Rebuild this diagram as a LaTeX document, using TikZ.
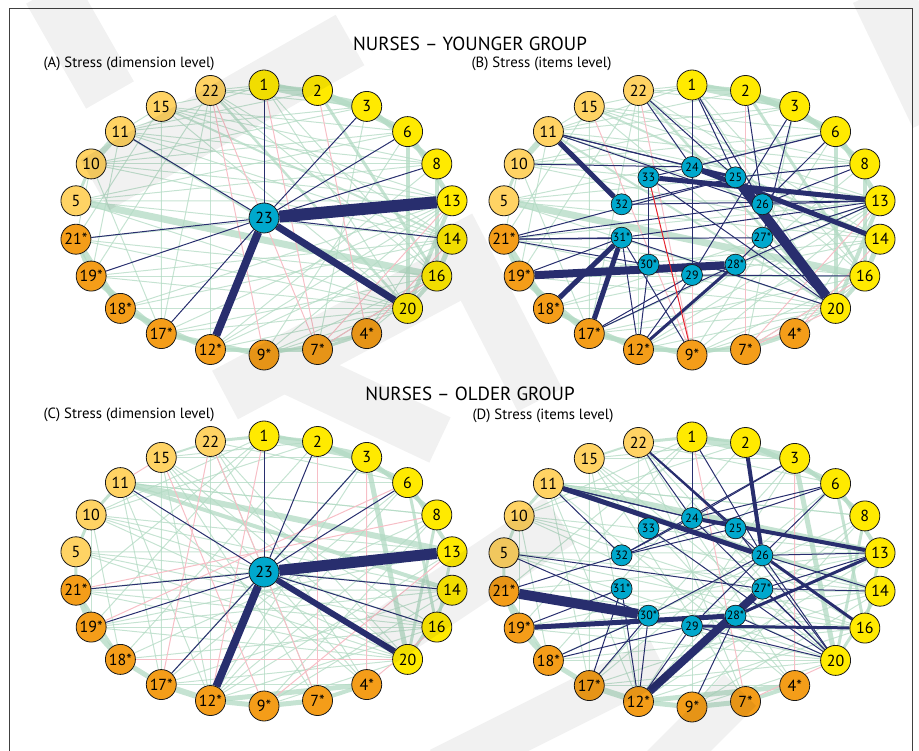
\documentclass[tikz,border=0pt]{standalone}
\usepackage{fontspec}
\setmainfont{PT Sans}
\usetikzlibrary{calc}
\definecolor{navyEdge}{RGB}{40,46,110}
\definecolor{mintEdge}{RGB}{178,218,195}
\definecolor{pinkEdge}{RGB}{247,190,198}
\definecolor{redEdge}{RGB}{230,35,45}
\definecolor{yelNode}{RGB}{255,234,0}
\definecolor{lorNode}{RGB}{255,211,100}
\definecolor{oraNode}{RGB}{244,157,25}
\definecolor{hubNode}{RGB}{0,168,205}

\pgfdeclarelayer{edges}
\pgfsetlayers{edges,main}

% anillo exterior: 22 items (prefijo, centro x, centro y)
\newcommand{\itemring}[3]{%
  \foreach \lab/\nm/\col [count=\k from 0] in {1/1/yelNode, 2/2/yelNode, 3/3/yelNode, 6/6/yelNode, 8/8/yelNode, 13/13/yelNode, 14/14/yelNode, 16/16/yelNode, 20/20/yelNode, 4*/4/oraNode, 7*/7/oraNode, 9*/9/oraNode, 12*/12/oraNode, 17*/17/oraNode, 18*/18/oraNode, 19*/19/oraNode, 21*/21/oraNode, 5/5/lorNode, 10/10/lorNode, 11/11/lorNode, 15/15/lorNode, 22/22/lorNode}{%
    \pgfmathsetmacro{\ang}{-90+\k*360/22}
    \node[item, fill=\col] (#1\nm) at ({#2+190*cos(\ang)},{#3+135*sin(\ang)}) {\lab};
  }}
% anillo interior: items de estres 24-33
\newcommand{\hubring}[3]{%
  \foreach \lab/\nm [count=\k from 0] in {24/24, 25/25, 26/26, 27*/27, 28*/28, 29/29, 30*/30, 31*/31, 32/32, 33/33}{%
    \pgfmathsetmacro{\ang}{-90+\k*36}
    \node[hub] (#1\nm) at ({#2+74*cos(\ang)},{#3+54*sin(\ang)}) {\lab};
  }}
% aristas: prefijo, estilo, lista u/v/grosor
\newcommand{\edgeset}[3]{%
  \foreach \u/\v/\w in #3 {\draw[#2, line width=\w pt] (#1\u) -- (#1\v);}}

% aristas de fondo (verde)
\def\youngMint{1/3/8, 2/6/6, 3/8/5, 6/13/5, 8/16/4, 6/20/4, 13/20/4, 14/16/5, 2/16/3, 5/16/7, 11/10/6, 10/5/3, 21/19/4, 21/18/6, 19/17/6, 18/12/5, 17/9/5, 12/7/4, 9/4/3, 7/4/3, 16/20/4, 1/2/3, 22/20/2.5, 15/14/2, 11/20/2,
  11/8/1, 11/13/1, 11/14/1, 10/13/1, 10/8/1, 10/14/1, 15/13/1, 15/8/1, 22/14/1, 15/20/1, 22/16/1, 5/14/1, 5/13/1, 21/16/1, 21/13/1, 19/20/1, 18/20/1, 17/20/1, 17/16/1, 12/14/1, 12/13/1, 9/13/1, 9/16/1, 17/13/1, 15/17/1, 11/19/1, 10/17/1, 15/21/1, 22/19/1, 1/22/1, 1/15/1, 1/11/1, 2/11/1, 3/10/1, 3/11/1, 6/10/1, 6/15/1, 6/5/1, 8/5/1, 1/16/1, 1/20/1, 22/12/1, 22/17/1, 3/7/1, 6/9/1, 8/12/1, 14/18/1, 16/19/1, 20/21/1, 20/5/1, 4/13/1, 4/16/1, 7/16/1, 12/20/1, 9/20/1, 18/13/1, 19/14/1, 2/22/1, 3/22/1, 15/11/1, 10/21/1}
\def\oldMint{1/3/8, 1/2/3, 2/6/5, 3/8/4, 6/13/4, 3/20/5, 8/20/3, 11/13/6, 11/14/4, 13/16/3, 14/20/3, 6/16/3, 21/19/5, 19/18/5, 18/17/5, 17/12/6, 12/9/5, 9/7/5, 12/4/5, 7/4/4, 21/18/3, 5/21/3, 10/5/3, 11/10/3, 15/22/2, 22/1/3,
  11/8/1, 11/6/1, 10/13/1, 10/14/1, 10/16/1, 15/20/1, 15/16/1, 22/20/1, 22/4/1, 5/13/1, 5/14/1, 5/16/1, 5/20/1, 21/14/1, 21/20/1, 19/16/1, 19/20/1, 18/16/1, 17/20/1, 17/14/1, 12/13/1, 12/16/1, 9/14/1, 9/20/1, 22/12/1, 15/17/1, 15/12/1, 11/17/1, 11/12/1, 10/19/1, 10/18/1, 1/21/1, 1/19/1, 2/18/1, 3/17/1, 3/12/1, 6/17/1, 6/12/1, 8/9/1, 8/12/1, 13/19/1, 13/21/1, 20/10/1, 4/11/1, 7/22/1, 9/1/1, 4/15/1, 7/15/1, 18/8/1, 2/15/1, 3/15/1, 6/22/1, 8/11/1, 1/10/1, 2/10/1, 16/21/1, 14/19/1, 20/18/1, 4/17/1}

\begin{document}
\begin{tikzpicture}[x=1pt, y=-1pt,
    item/.style={circle, draw=black!90, line width=0.8pt, minimum size=30pt, inner sep=0pt, font=\fontsize{16pt}{16pt}\selectfont},
    hub/.style={circle, draw=black!90, line width=0.7pt, fill=hubNode, minimum size=21pt, inner sep=0pt, font=\fontsize{12pt}{12pt}\selectfont},
    mint/.style={draw=mintEdge, opacity=0.75},
    pink/.style={draw=pinkEdge},
    navy/.style={draw=navyEdge},
    headline/.style={font=\fontsize{19pt}{19pt}\selectfont},
    panel label/.style={anchor=west, font=\fontsize{14.8pt}{14.8pt}\selectfont}]
\useasboundingbox (0,0) rectangle (919,751);

% 1. MARCO Y TITULOS
\draw[black!75, line width=1pt] (9,751) -- (9,9) -- (912,9) -- (912,751);
\node[headline] (titleYoung) at (470,44) {NURSES – YOUNGER GROUP};
\node[headline] (titleOld) at (470,394) {NURSES – OLDER GROUP};
\node[panel label] (labA) at (40,64) {(A) Stress (dimension level)};
\node[panel label] (labB) at (468,64) {(B) Stress (items level)};
\node[panel label] (labC) at (40,415) {(C) Stress (dimension level)};
\node[panel label] (labD) at (469,416) {(D) Stress (items level)};

% 2. NODOS
\itemring{A}{264}{220}
\itemring{B}{692}{220}
\itemring{C}{264}{571}
\itemring{D}{692}{572}
\node[item, fill=hubNode] (A23) at (264,218) {23};
\node[item, fill=hubNode] (C23) at (264,572) {23};
\hubring{B}{692}{221}
\hubring{D}{692}{572}

% 3. ARISTAS
\begin{pgfonlayer}{edges}
  \edgeset{A}{mint}{\youngMint}
  \edgeset{B}{mint}{\youngMint}
  \edgeset{C}{mint}{\oldMint}
  \edgeset{D}{mint}{\oldMint}
  % negativas
  \edgeset{A}{pink}{{22/9/1, 22/7/1, 1/7/1, 2/4/1, 7/13/1, 4/14/1, 7/16/1}}
  \edgeset{B}{pink}{{22/9/1, 15/9/1, 1/9/1, 2/7/1, 7/13/1, 4/14/1, 7/16/1, 20/7/1}}
  \edgeset{C}{pink}{{22/7/1, 15/9/1, 2/7/1, 3/4/1, 6/19/1, 8/21/1, 22/17/1, 1/12/1, 9/13/1, 20/18/1, 4/16/1, 11/15/1}}
  \edgeset{D}{pink}{{1/7/1, 3/4/1, 20/7/1}}
  % aristas con el estres
  \edgeset{A}{navy}{{23/1/1, 23/3/1, 23/6/1, 23/8/1, 23/13/12, 23/14/1, 23/20/7, 23/12/8, 23/17/1, 23/19/1, 23/21/1, 23/11/1}}
  \edgeset{C}{navy}{{23/1/1, 23/2/1, 23/3/1, 23/6/1, 23/11/1, 23/13/11, 23/14/1, 23/16/1, 23/20/6, 23/12/8, 23/17/1, 23/19/1, 23/21/1}}
  \edgeset{B}{navy}{{11/32/5, 11/24/1, 11/25/1, 11/26/1, 10/24/1, 22/24/1, 22/25/1, 1/29/1, 1/25/1, 1/26/1, 2/26/1, 3/29/1, 3/27/1, 6/24/1.2, 6/26/1, 8/25/1, 8/26/1, 33/13/5, 24/14/5, 25/20/10, 13/26/1, 13/32/1, 13/31/1, 13/27/1, 13/28/1, 33/24/1, 33/30/1, 33/20/1, 32/25/1, 21/26/1, 21/25/1, 21/31/1, 21/27/1, 21/30/1, 19/28/8, 19/31/1, 18/31/5, 17/31/5, 17/28/1, 17/29/1, 12/31/1, 12/30/1, 12/29/1, 12/28/3, 31/9/1, 31/20/1, 29/16/1, 28/27/1, 27/20/1, 24/25/3}}
  \draw[redEdge, line width=1pt] (B33) -- (B9);
  \edgeset{D}{navy}{{11/26/5, 11/24/1, 11/25/1, 11/32/1, 22/24/1, 22/25/2, 22/26/1, 1/24/1, 1/26/1, 2/26/4, 3/24/1, 3/32/1, 6/24/1, 6/32/1, 6/26/1, 24/13/4, 13/28/3, 13/27/1, 13/26/1, 26/16/3, 26/20/1, 26/14/1, 25/20/1, 24/20/1, 21/30/10, 19/28/5, 12/27/8, 29/16/3, 5/27/1, 5/30/1, 21/32/1, 19/31/1, 18/29/1, 18/30/1, 17/31/1, 17/30/1, 12/31/1, 12/30/1, 12/29/1, 9/28/1, 33/20/1, 32/24/1, 32/25/1, 27/20/1, 27/14/1, 30/26/1, 29/20/1, 29/26/1, 28/20/1}}
\end{pgfonlayer}

% 4. MARCA DE AGUA
\begin{scope}[transparency group, opacity=0.055]
  \draw[line width=55pt] (50,-10) -- (110,95);
  \draw[line width=58pt] (95,185) -- (350,40);
  \draw[line width=55pt] (225,395) -- (475,262);
  \draw[line width=50pt] (450,225) -- (540,400);
  \draw[line width=60pt] (880,-10) -- (940,115);
  \draw[line width=50pt] (270,360) -- (440,440);
  \draw[line width=55pt] (380,640) -- (560,520);
  \draw[line width=45pt] (440,770) -- (660,660);
  \draw[line width=45pt] (650,780) -- (740,690);
\end{scope}
\end{tikzpicture}
\end{document}
